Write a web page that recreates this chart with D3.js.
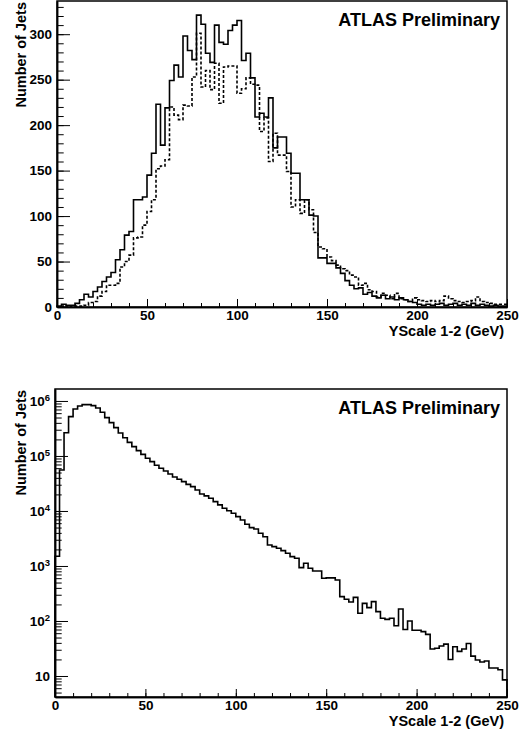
<!DOCTYPE html>
<html>
<head>
<meta charset="utf-8">
<script src="https://cdn.jsdelivr.net/npm/d3@7/dist/d3.min.js"></script>
<style>
  body { margin: 0; background: #fff; }
  text { font-family: "Liberation Sans", Arial, Helvetica, sans-serif; font-weight: bold; }
</style>
</head>
<body>
<script>

// histogram binning: 100 bins from 0 to 250 GeV
var xMin = 0, xMax = 250, nBins = 100;
var xTicks = [0, 50, 100, 150, 200, 250];
var linTicks = [0, 50, 100, 150, 200, 250, 300];
var logTicks = [10, 100, 1e3, 1e4, 1e5, 1e6];
var xTitle = "YScale 1-2 (GeV)";
var yTitle = "Number of Jets";
var label = "ATLAS Preliminary";

// top plot, solid line
var solidCounts = [1, 3, 2, 2, 4, 8, 14, 11, 17, 22,
  28, 33, 38, 52, 63, 79, 83, 118, 118, 121,
  145, 169, 223, 178, 219, 249, 266, 253, 298, 282,
  272, 321, 311, 279, 269, 310, 291, 289, 304, 310,
  315, 271, 279, 252, 209, 213, 209, 230, 175, 187,
  187, 169, 147, 147, 118, 118, 101, 100, 54, 54,
  48, 48, 43, 37, 29, 24, 20, 21, 14, 16,
  12, 10, 13, 9, 11, 8, 10, 8, 6, 5,
  3, 2, 3, 2, 3, 4, 2, 3, 4, 2,
  3, 2, 4, 2, 3, 2, 1, 2, 1, 1];

// top plot, dashed line
var dashedCounts = [0, 1, 0, 1, 1, 1, 2, 5, 6, 12,
  17, 24, 24, 26, 44, 50, 57, 76, 77, 90,
  105, 118, 152, 155, 162, 220, 211, 206, 222, 221,
  253, 301, 242, 260, 239, 268, 224, 264, 265, 265,
  235, 240, 252, 245, 244, 193, 208, 160, 191, 167,
  167, 149, 110, 118, 103, 118, 107, 82, 66, 64,
  55, 51, 46, 42, 40, 35, 33, 24, 26, 19,
  17, 11, 15, 13, 9, 15, 9, 8, 6, 10,
  8, 7, 6, 7, 6, 7, 12, 9, 7, 6,
  5, 6, 7, 11, 6, 5, 4, 3, 3, 3];

// bottom plot, log scale
var allCounts = [1500, 55600, 265000, 519000, 716000, 811000, 858000, 858000, 822000, 746000,
  622000, 498000, 404000, 327000, 262000, 215000, 177000, 148000, 125000, 107000,
  90700, 78900, 67700, 59700, 53400, 47100, 41500, 37700, 34200, 30500,
  27700, 24100, 20400, 18800, 17000, 14800, 12900, 11200, 10100, 9070,
  7890, 6860, 5730, 4980, 4710, 3930, 3410, 2410, 2250, 2100,
  1900, 1700, 1480, 1380, 933, 1120, 907, 811, 811, 597,
  609, 609, 556, 277, 248, 221, 269, 138, 209, 175,
  225, 148, 112, 107, 112, 82, 165, 70, 100, 68,
  68, 64, 57, 31, 32, 35, 38, 20, 34, 28,
  31, 39, 23, 19.5, 18, 18.7, 14, 14, 13, 8.5];

var svg = d3.select("body").append("svg")
    .attr("width", 522)
    .attr("height", 734);

var binW = (xMax - xMin) / nBins;

/*
  turns a list of bin contents into outline points
  starting and ending on the baseline, like root draws it
*/
var histPoints = function(counts, base){
    var pts = [[xMin, base]];
    counts.forEach(function(c, i){
        pts.push([xMin + i * binW, c]);
    });
    pts.push([xMax, counts[counts.length - 1]]);
    pts.push([xMax, base]);
    return pts;
};

var styleAxis = function(g){
    g.selectAll("text")
        .attr("font-size", 13.5)
        .attr("fill", "#000")
        .attr("font-family", "'Liberation Sans', Arial, sans-serif")
        .attr("font-weight", "bold");
    g.selectAll("line").attr("stroke", "#000").attr("stroke-width", 1);
    g.select(".domain").attr("stroke", "#000").attr("stroke-width", 1.5);
};

var drawPanel = function(p){
    var g = svg.append("g");
    var x = d3.scaleLinear().domain([xMin, xMax]).range([p.left, p.right]);
    var y = p.y;

    // x axis, major + minor ticks pointing inwards
    var xg = g.append("g").attr("transform", "translate(0," + p.bottom + ")");
    xg.call(d3.axisBottom(x).tickValues(xTicks).tickSize(-8).tickSizeOuter(0).tickPadding(3));
    styleAxis(xg);
    var xm = g.append("g").attr("transform", "translate(0," + p.bottom + ")");
    xm.call(d3.axisBottom(x).tickValues(d3.range(xMin, xMax + 1, 10)).tickSize(-4).tickSizeOuter(0).tickFormat(""));
    styleAxis(xm);

    // y axis
    var yg = g.append("g").attr("transform", "translate(" + p.left + ",0)");
    yg.call(d3.axisLeft(y).tickValues(p.ticks).tickSize(-13).tickSizeOuter(0).tickPadding(5).tickFormat(p.fmt));
    styleAxis(yg);
    if (p.log) {
        // 10^n labels with superscripts
        yg.selectAll(".tick text").each(function(d){
            var t = d3.select(this);
            var e = Math.round(Math.log10(d));
            t.text("");
            if (e == 1) { t.text("10"); return; }
            t.append("tspan").text("10");
            t.append("tspan").attr("dy", "-0.5em").attr("font-size", 9.5).text(e);
        });
    }
    var ym = g.append("g").attr("transform", "translate(" + p.left + ",0)");
    ym.call(d3.axisLeft(y).tickValues(p.minor).tickSize(-6.7).tickSizeOuter(0).tickFormat(""));
    styleAxis(ym);

    // histograms
    p.series.forEach(function(s){
        var line = d3.line()
            .x(function(d){ return x(d[0]); })
            .y(function(d){ return y(d[1]); })
            .curve(d3.curveStepAfter);
        g.append("path")
            .attr("d", line(histPoints(s.counts, p.base)))
            .attr("fill", "none")
            .attr("stroke", "#000")
            .attr("stroke-width", 1.6)
            .attr("stroke-dasharray", s.dash);
    });

    // frame
    g.append("rect")
        .attr("x", p.left).attr("y", p.top)
        .attr("width", p.right - p.left).attr("height", p.bottom - p.top)
        .attr("fill", "none").attr("stroke", "#000").attr("stroke-width", 1.5);

    // titles
    g.append("text")
        .attr("transform", "translate(26," + (p.top + 1) + ") rotate(-90)")
        .attr("text-anchor", "end")
        .attr("font-size", 14.5)
        .text(yTitle);
    g.append("text")
        .attr("x", p.right - 3).attr("y", p.bottom + 29)
        .attr("text-anchor", "end")
        .attr("font-size", 14.5)
        .text(xTitle);
    g.append("text")
        .attr("x", p.right - 7).attr("y", p.top + 25)
        .attr("text-anchor", "end")
        .attr("font-size", 18)
        .text(label);
};

// minor ticks for log axis: 2..9 in every decade
var logMinor = [];
for (var d = 0; d <= 6; d++) {
    for (var m = 2; m <= 9; m++) {
        var v = m * Math.pow(10, d);
        if (v > 4.2 && v < 1.6e6) logMinor.push(v);
    }
}

drawPanel({
    left: 57, right: 507, top: 1, bottom: 307,
    y: d3.scaleLinear().domain([0, 336.5]).range([307, 1]),
    ticks: linTicks, minor: d3.range(0, 337, 10), fmt: d3.format("d"),
    base: 0, log: false,
    series: [{counts: dashedCounts, dash: "3,2"}, {counts: solidCounts, dash: null}]
});

drawPanel({
    left: 55, right: 507, top: 389, bottom: 697,
    y: d3.scaleLog().domain([4.15, 1.65e6]).range([697, 389]),
    ticks: logTicks, minor: logMinor, fmt: function(d){ return d; },
    base: 4.15, log: true,
    series: [{counts: allCounts, dash: null}]
});

</script>
</body>
</html>
